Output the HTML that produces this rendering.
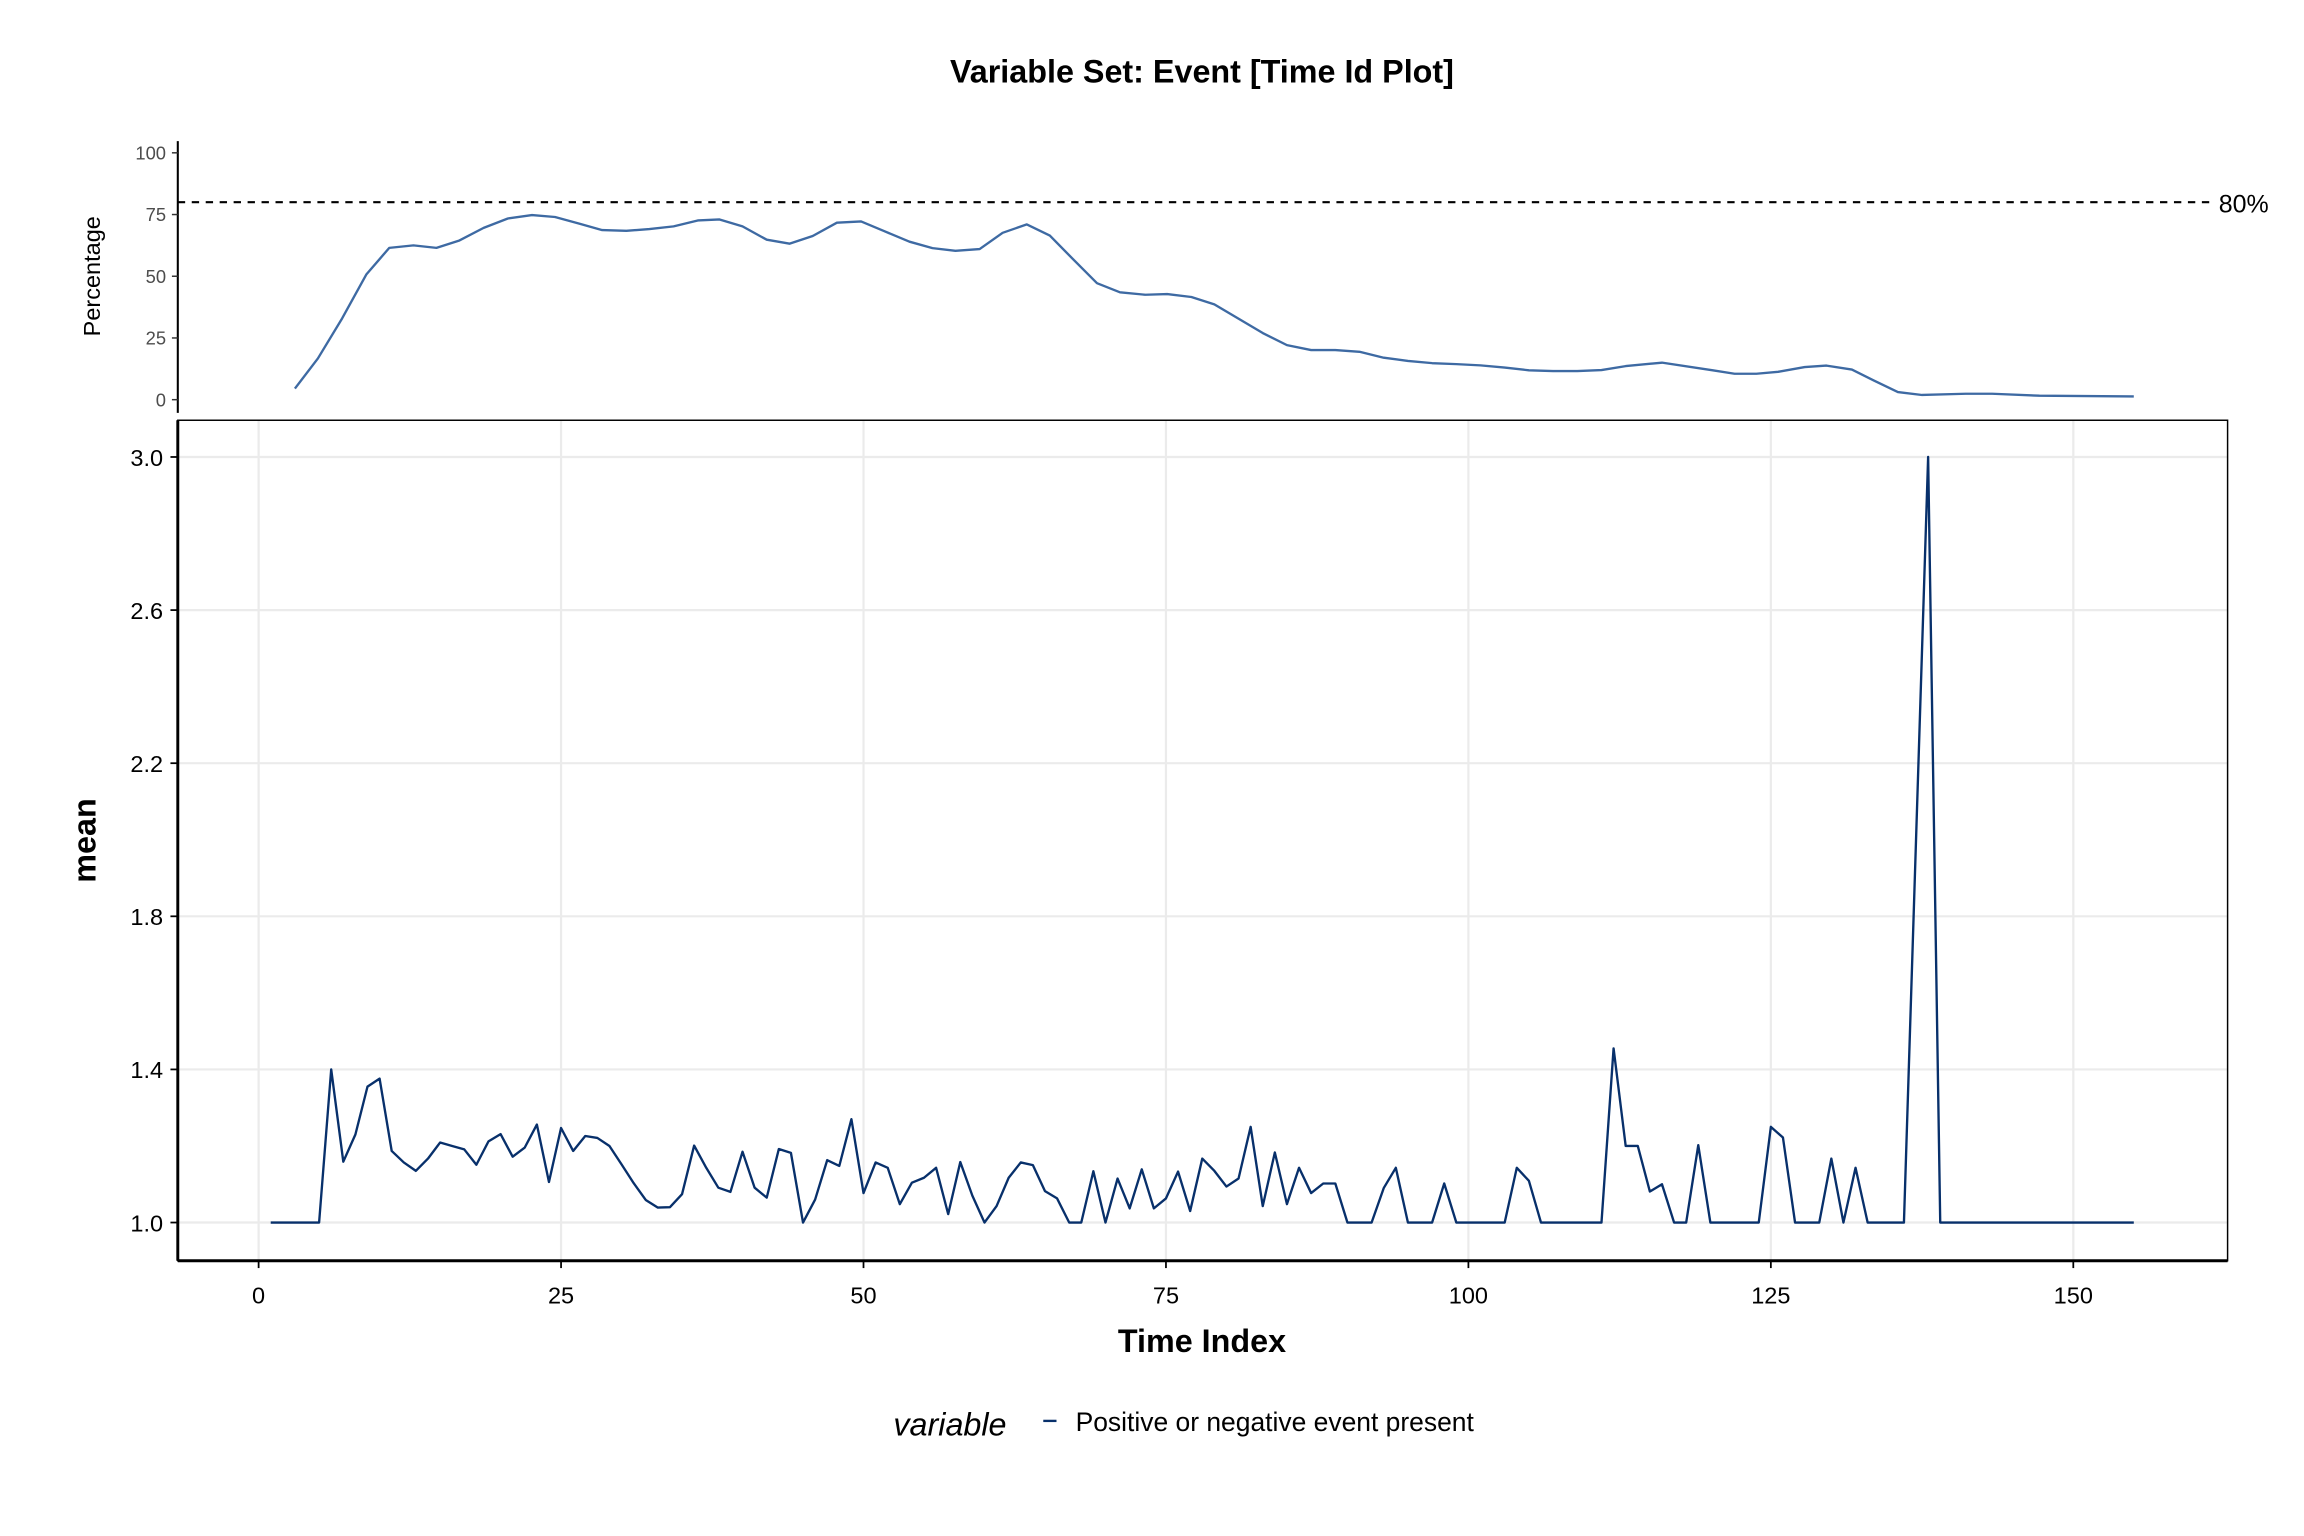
<!DOCTYPE html>
<html><head><meta charset="utf-8"><style>
html,body{margin:0;padding:0;background:#fff}
svg{display:block;font-family:"Liberation Sans",Arial,sans-serif}
</style></head><body>
<svg id="chart" width="2304" height="1536" viewBox="0 0 1568 1045.33" xmlns="http://www.w3.org/2000/svg">
<rect width="1568" height="1045.33" fill="#fff"/>
<text x="818" y="56" text-anchor="middle" font-size="22" font-weight="bold">Variable Set: Event [Time Id Plot]</text>
<g id="topPanel"></g>
<g id="mainPanel"></g>
<text x="818" y="920" text-anchor="middle" font-size="22" font-weight="bold">Time Index</text>
<text transform="translate(65,572) rotate(-90)" text-anchor="middle" font-size="22" font-weight="bold">mean</text>
<text transform="translate(68,188) rotate(-90)" text-anchor="middle" font-size="16">Percentage</text>
<g>
<text x="608" y="977" font-size="22" font-style="italic">variable</text>
<line x1="710" y1="967" x2="719" y2="967" stroke="#08306b" stroke-width="1.6"/>
<text x="732" y="974" font-size="18">Positive or negative event present</text>
</g>
<script>
const meanValues=[1,1,1,1,1,1.4,1.159,1.23,1.355,1.376,1.187,1.157,1.135,1.167,1.209,1.2,1.191,1.151,1.212,1.231,1.172,1.196,1.256,1.106,1.247,1.187,1.226,1.221,1.2,1.152,1.103,1.059,1.039,1.04,1.074,1.201,1.143,1.091,1.08,1.185,1.091,1.065,1.192,1.182,1.0,1.06,1.163,1.148,1.27,1.077,1.157,1.143,1.048,1.104,1.117,1.143,1.022,1.158,1.07,1.0,1.043,1.117,1.157,1.15,1.082,1.063,1.0,1.0,1.134,1.0,1.115,1.037,1.139,1.037,1.063,1.133,1.03,1.167,1.135,1.094,1.115,1.25,1.043,1.183,1.048,1.143,1.077,1.102,1.102,1,1,1,1.09,1.143,1,1,1,1.102,1,1,1,1,1,1.143,1.109,1,1,1,1,1,1,1.455,1.2,1.2,1.081,1.1,1,1,1.202,1,1,1,1,1,1.25,1.222,1,1,1,1.167,1,1.143,1,1,1,1,2.0,3.0,1,1,1,1,1,1,1,1,1,1,1,1,1,1,1,1,1];
const pctTimes=[3.0,4.9,6.9,8.9,10.8,12.8,14.7,16.6,18.6,20.6,22.6,24.5,26.5,28.4,30.4,32.3,34.3,36.3,38.1,40.0,42.0,43.9,45.8,47.8,49.8,51.7,53.8,55.7,57.6,59.6,61.5,63.5,65.4,67.3,69.3,71.2,73.3,75.1,77.1,79,83,85,87,89,91,93,95,97,99,101,103,105,107,109,111,113,116,120.2,122,123.8,125.6,127.8,129.6,131.7,133.5,135.5,137.5,141.1,143.3,147.2,155];
const pctValues=[4.5,16.7,32.9,50.7,61.5,62.5,61.5,64.5,69.6,73.4,74.8,74.0,71.3,68.7,68.4,69.1,70.2,72.6,73.0,70.2,64.8,63.2,66.3,71.7,72.2,68.3,64.0,61.4,60.3,61.0,67.6,71.0,66.5,57.0,47.2,43.5,42.5,42.8,41.6,38.6,27.0,22.1,20.1,20.1,19.4,17.0,15.7,14.8,14.4,13.9,13.0,11.9,11.6,11.6,12.0,13.6,15.0,11.9,10.5,10.5,11.3,13.2,13.8,12.2,7.8,3.1,1.9,2.4,2.4,1.6,1.3];
const xTicks=[0,25,50,75,100,125,150];
const yTicks=[1.0,1.4,1.8,2.2,2.6,3.0];
const pctTicks=[0,25,50,75,100];
const threshold=80;
const NS='http://www.w3.org/2000/svg';
const X=t=>176+(t-0)*(1411-176)/150;
const Y=v=>832-(v-1)*(832-311)/2;
const P=v=>272-v*(272-104)/100;
function mk(tag,attrs,parent){const e=document.createElementNS(NS,tag);for(const k in attrs)e.setAttribute(k,attrs[k]);parent.appendChild(e);return e;}
const mainG=document.getElementById('mainPanel'),topG=document.getElementById('topPanel');
xTicks.forEach(t=>{const l=mk('line',{x1:X(t),x2:X(t),y1:286,y2:858,stroke:'#ebebeb','stroke-width':1.5},mainG);

});
yTicks.forEach(v=>{const l=mk('line',{x1:121,x2:1516,y1:Y(v),y2:Y(v),stroke:'#ebebeb','stroke-width':1.5},mainG);

});
const fr=mk('rect',{x:121,y:286,width:1395,height:572,fill:'none',stroke:'#000','stroke-width':1},mainG);


const xa=mk('line',{x1:121,x2:1516,y1:858,y2:858,stroke:'#000','stroke-width':2},mainG);


const ya=mk('line',{x1:121,x2:121,y1:286,y2:858,stroke:'#000','stroke-width':2},mainG);


xTicks.forEach(t=>{const tk=mk('line',{x1:X(t),x2:X(t),y1:858,y2:863,stroke:'#000','stroke-width':1.2},mainG);


const tx=mk('text',{x:X(t),y:887,'text-anchor':'middle','font-size':16},mainG);tx.textContent=t;

});
yTicks.forEach(v=>{const tk=mk('line',{x1:116,x2:121,y1:Y(v),y2:Y(v),stroke:'#000','stroke-width':1.2},mainG);


const tx=mk('text',{x:111,y:Y(v)+6,'text-anchor':'end','font-size':16},mainG);tx.textContent=v.toFixed(1);

});
const ml=mk('polyline',{points:meanValues.map((v,i)=>X(i+1)+','+Y(v)).join(' '),fill:'none',stroke:'#08306b','stroke-width':1.6,'stroke-linejoin':'round'},mainG);


const ta=mk('line',{x1:121,x2:121,y1:96,y2:281,stroke:'#000','stroke-width':1.4},topG);


pctTicks.forEach(v=>{const tk=mk('line',{x1:117,x2:121,y1:P(v),y2:P(v),stroke:'#333','stroke-width':1},topG);


const tx=mk('text',{x:113,y:P(v)+4.5,'text-anchor':'end','font-size':12.5,fill:'#4d4d4d'},topG);tx.textContent=v;

});
const th=mk('line',{x1:121,x2:1506,y1:P(threshold),y2:P(threshold),stroke:'#000','stroke-width':1.4,'stroke-dasharray':'5,4.5'},topG);


const tt=mk('text',{x:1510,y:P(threshold)+7,'font-size':17},topG);tt.textContent=threshold+'%';


const pl=mk('polyline',{points:pctValues.map((v,i)=>X(pctTimes[i])+','+P(v)).join(' '),fill:'none',stroke:'#3e6aa3','stroke-width':1.6,'stroke-linejoin':'round'},topG);


</script>
</svg>
</body></html>
